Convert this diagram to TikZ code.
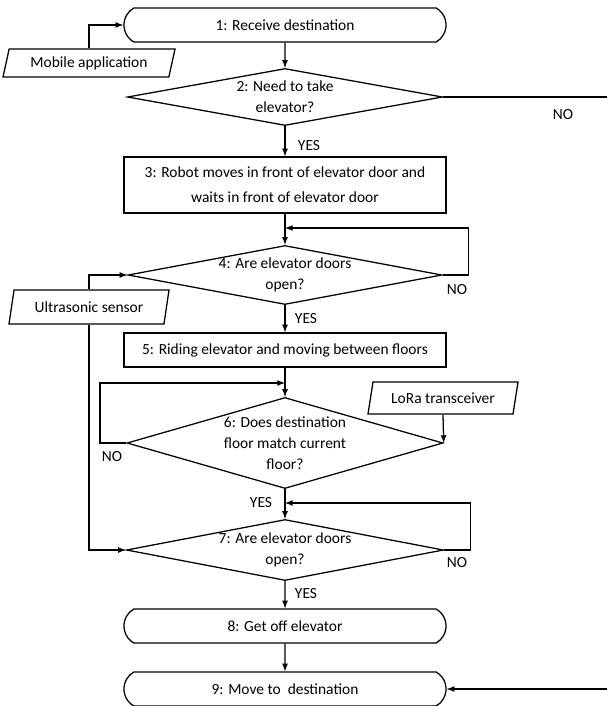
\documentclass[tikz,border=0pt]{standalone}
\usepackage{fontspec}
\setmainfont{Carlito}
\usetikzlibrary{shapes.geometric,shapes.misc}
\tikzset{
  term/.style={draw,rounded rectangle,rounded rectangle arc length=120,minimum width=8.05cm,minimum height=0.85cm,inner sep=0pt},
  proc/.style={draw,rectangle,minimum width=8.05cm,minimum height=0.85cm,inner sep=0pt,align=center},
  dec/.style={draw,diamond,inner sep=-2pt,align=center},
  io/.style={draw,trapezium,trapezium left angle=65,trapezium right angle=115,trapezium stretches body,inner sep=0pt}
}
\begin{document}
\begin{tikzpicture}[x=0.025cm,y=-0.025cm,line width=0.9pt,font=\fontsize{11}{15}\selectfont]
\useasboundingbox (0,0) rectangle (607,706);

\node[term] (n1) at (285,25) {1: Receive destination};
\node[io,minimum width=4.3cm,minimum height=0.7cm] (mob) at (89,63) {Mobile application};
\draw[-latex] (mob.north) |- (n1.west);

\node[dec,aspect=5.5,minimum width=7.875cm,minimum height=1.425cm] (d2) at (285,97) {2: Need to take\\elevator?};
\draw[-latex] (n1) -- (d2);
\coordinate (out) at (607,97);
\draw (d2.east) -- (out);
\node (no2) at (563,115) {NO};

\node[proc,minimum height=1.4cm] (n3) at (285,185) {3: Robot moves in front of elevator door and\\[3pt]waits in front of elevator door};
\draw[-latex] (d2) -- (n3);
\node (yes2) at (309,146) {YES};

\node[dec,aspect=5.3,minimum width=7.85cm,minimum height=1.475cm] (d4) at (285,275) {4: Are elevator doors\\open?};
\coordinate (j4) at (285,228);
\draw[-latex] (n3) -- (d4);
\draw[-latex] (d4.east) -- ++(26,0) |- (j4);
\node (no4) at (457,290) {NO};

\node[io,minimum width=4.0cm,minimum height=0.85cm] (ultra) at (89,307) {Ultrasonic sensor};
\draw[-latex] (ultra.north) |- (d4.west);

\node[proc] (n5) at (285,350) {5: Riding elevator and moving between floors};
\draw[-latex] (d4) -- (n5);
\node (yes4) at (306,319) {YES};

\node[dec,aspect=3.47,minimum width=7.9cm,minimum height=2.275cm] (d6) at (285,443) {6: Does destination\\floor match current\\floor?};
\coordinate (j6) at (285,383);
\draw[-latex] (n5) -- (d6);
\draw[-latex] (d6.west) -- (100,443) |- (j6);
\node (no6) at (112,457) {NO};

\node[io,minimum width=3.75cm,minimum height=0.8cm] (lora) at (443,398) {LoRa transceiver};
\draw[-latex] (lora.south) -- (d6.east);

\node[dec,aspect=5.2,minimum width=7.925cm,minimum height=1.525cm] (d7) at (285,550) {7: Are elevator doors\\open?};
\coordinate (j7) at (285,503);
\draw[-latex] (d6) -- (d7);
\draw[-latex] (d7.east) -- ++(26,0) |- (j7);
\draw[-latex] (ultra.south) |- (d7.west);
\node (yes6) at (261,503) {YES};
\node (no7) at (457,563) {NO};

\node[term] (n8) at (285,626) {8: Get off elevator};
\draw[-latex] (d7) -- (n8);
\node (yes7) at (306,594) {YES};

\node[term] (n9) at (285,689) {9: Move to~~destination};
\draw[-latex] (n8) -- (n9);
\coordinate (in) at (607,689);
\draw[-latex] (in) -- (n9.east);
\end{tikzpicture}
\end{document}
